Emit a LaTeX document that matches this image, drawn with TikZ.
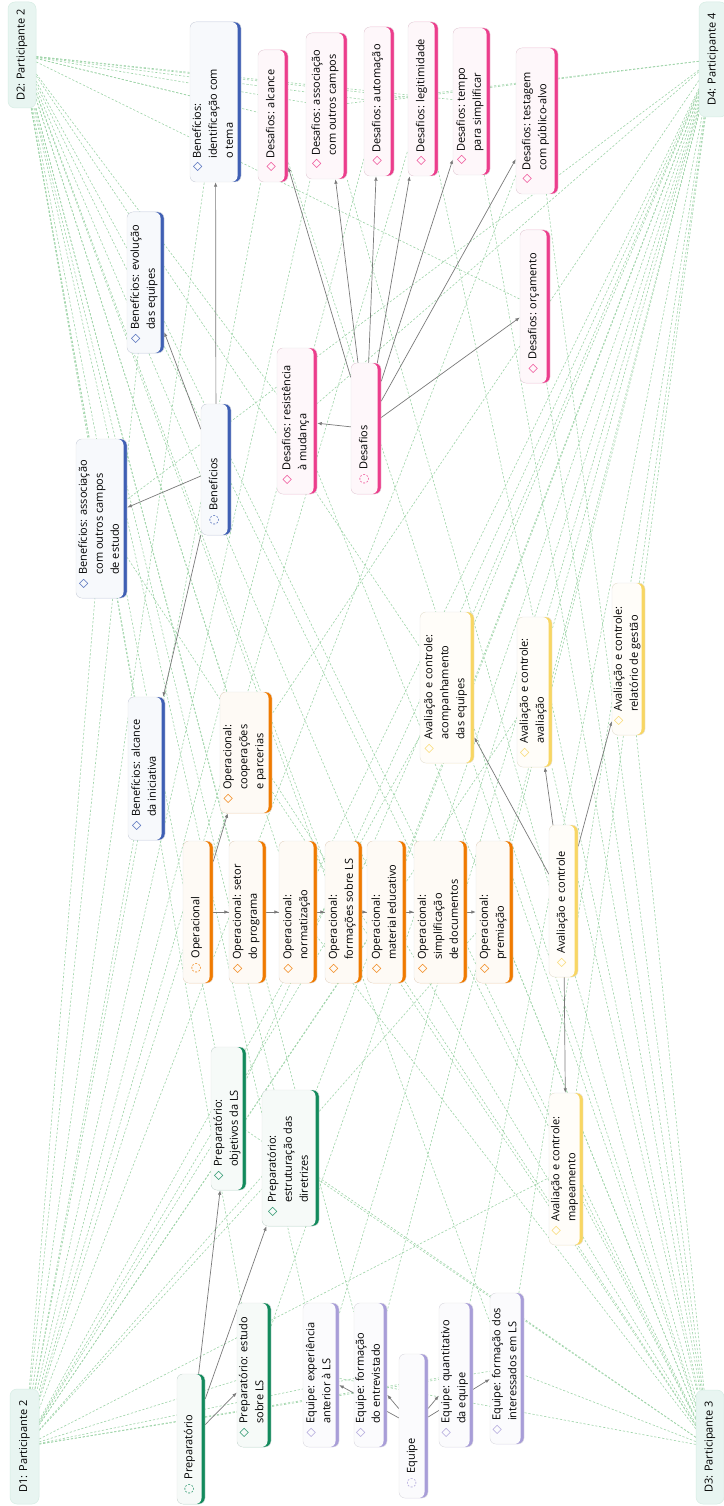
\documentclass[tikz,border=0pt]{standalone}
\usepackage{fontspec}
\setmainfont{Open Sans}
\newfontfamily\iconfont{DejaVu Sans}
\usetikzlibrary{arrows.meta}
\definecolor{benblue}{HTML}{3F5FB4}
\definecolor{desapink}{HTML}{EC3D8C}
\definecolor{operorange}{HTML}{F07A00}
\definecolor{avalyellow}{HTML}{F8D663}
\definecolor{prepgreen}{HTML}{128A5C}
\definecolor{equipurple}{HTML}{A89DD8}
\definecolor{partmint}{HTML}{E8F5F1}
\definecolor{partedge}{HTML}{D6EDE4}
\definecolor{linkgreen}{HTML}{9ED4A8}
\definecolor{arrowgray}{HTML}{7A7A7A}
\pgfdeclarelayer{back}
\pgfsetlayers{back,main}
\newcommand\leaficon[1]{{\iconfont\fontsize{12}{12}\selectfont\textcolor{#1}{◇}}}
\newcommand\groupicon[1]{{\iconfont\fontsize{12}{12}\selectfont\textcolor{#1}{◌}}}

\begin{document}
\begin{tikzpicture}[
    x=1pt, y=-1pt,
    box/.style={rectangle, rounded corners=6pt, inner sep=0pt, draw=black!10, line width=0.4pt, fill=#1,
        path picture={\fill[#1!4] ([xshift=-3.5pt]path picture bounding box.north east) rectangle (path picture bounding box.south west);}},
    part/.style={rectangle, rounded corners=7pt, inner sep=0pt, fill=partmint, draw=partedge, line width=0.5pt},
    boxtext/.style={rotate=90, anchor=west, inner sep=0pt, font=\fontsize{11}{16}\selectfont},
    parttext/.style={rotate=90, inner sep=0pt, font=\fontsize{11}{13}\selectfont},
    arr/.style={-{Latex[length=4.5pt, width=3.5pt]}, draw=arrowgray, line width=0.7pt},
    link/.style={draw=linkgreen, line width=0.6pt, dash pattern=on 2.2pt off 1.8pt},
]
\useasboundingbox (0,0) rectangle (723,1506);

% participants
\node[part, minimum width=28pt, minimum height=106pt] (pD2) at (22,55) {};
\node[part, minimum width=28pt, minimum height=115pt] (pD4) at (713,59.5) {};
\node[part, minimum width=29pt, minimum height=115pt] (pD1) at (24.5,1446.5) {};
\node[part, minimum width=28pt, minimum height=114pt] (pD3) at (710,1447) {};
\node[parttext] at (pD2) {D2: Participante 2};
\node[parttext] at (pD4) {D4: Participante 4};
\node[parttext] at (pD1) {D1: Participante 2};
\node[parttext] at (pD3) {D3: Participante 3};

% codes
\foreach \nm/\col/\x/\y/\w/\h/\ic/\txt in {
    prep/prepgreen/191/1439/28/130/\groupicon/{Preparatório},
    prEstudo/prepgreen/254/1375/34/144/\leaficon/{Preparatório: estudo\\sobre LS},
    prObjet/prepgreen/228.5/1118.5/35/143/\leaficon/{Preparatório:\\objetivos da LS},
    prDiretr/prepgreen/290.5/1158/57/136/\leaficon/{Preparatório:\\estruturação das\\diretrizes},
    equipe/equipurple/413.5/1426/29/144/\groupicon/{Equipe},
    eqExper/equipurple/321/1375/36/144/\leaficon/{Equipe: experiência\\anterior à LS},
    eqEntrev/equipurple/370.5/1375/33/144/\leaficon/{Equipe: formação\\do entrevistado},
    eqQuant/equipurple/456/1375/34/144/\leaficon/{Equipe: quantitativo\\da equipe},
    eqInter/equipurple/507/1368.5/34/151/\leaficon/{Equipe: formação dos\\interessados em LS},
    oper/operorange/198/912/30/142/\groupicon/{Operacional},
    opSetor/operorange/247.5/912/37/142/\leaficon/{Operacional: setor\\do programa},
    opNorma/operorange/298/912/38/142/\leaficon/{Operacional:\\normatização},
    opForm/operorange/343.5/912/37/142/\leaficon/{Operacional:\\formações sobre LS},
    opMat/operorange/386.5/912/39/142/\leaficon/{Operacional:\\material educativo},
    opSimpl/operorange/440.5/912/53/142/\leaficon/{Operacional:\\simplificação\\de documentos},
    opPrem/operorange/494.5/912/37/142/\leaficon/{Operacional:\\premiação},
    opCoop/operorange/246/752.5/52/121/\leaficon/{Operacional:\\cooperações\\e parcerias},
    aval/avalyellow/563.5/901/29/152/\leaficon/{Avaliação e controle},
    avAcomp/avalyellow/447/687.5/54/151/\leaficon/{Avaliação e controle:\\acompanhamento\\das equipes},
    avAval/avalyellow/534.5/692/35/150/\leaficon/{Avaliação e controle:\\avaliação},
    avRelat/avalyellow/628.5/659/33/152/\leaficon/{Avaliação e controle:\\relatório de gestão},
    avMapa/avalyellow/566/1169/34/152/\leaficon/{Avaliação e controle:\\mapeamento},
    benef/benblue/216/469.5/30/131/\groupicon/{Benefícios},
    beIdent/benblue/215.5/102/51/160/\leaficon/{Benefícios:\\identificação com\\o tema},
    beEvol/benblue/145.5/282.5/37/141/\leaficon/{Benefícios: evolução\\das equipes},
    beAssoc/benblue/101.5/518.5/51/159/\leaficon/{Benefícios: associação\\com outros campos\\de estudo},
    beAlc/benblue/146.5/768.5/37/143/\leaficon/{Benefícios: alcance\\da iniciativa},
    desaf/desapink/366/428.5/30/131/\groupicon/{Desafios},
    deAlc/desapink/273/116/30/132/\leaficon/{Desafios: alcance},
    deAssoc/desapink/326.5/106/41/146/\leaficon/{Desafios: associação\\com outros campos},
    deAutom/desapink/379/101.5/30/149/\leaficon/{Desafios: automação},
    deLegit/desapink/423/99/30/154/\leaficon/{Desafios: legitimidade},
    deTempo/desapink/471.5/101.5/37/147/\leaficon/{Desafios: tempo\\para simplificar},
    deTest/desapink/537/121/42/146/\leaficon/{Desafios: testagem\\com público-alvo},
    deOrc/desapink/535/306.5/30/153/\leaficon/{Desafios: orçamento},
    deResist/desapink/297/421/40/146/\leaficon/{Desafios: resistência\\à mudança}} {
    \node[box=\col, minimum width=\w pt, minimum height=\h pt] (\nm) at (\x,\y) {};
    \node[boxtext] at ([xshift=-1.75pt, yshift=10pt]\nm.south) {\ic{\col}\hspace{4pt}\begin{tabular}[t]{@{}l@{}}\txt\end{tabular}};
}

\begin{pgfonlayer}{back}
\fill[white] (0,0) rectangle (723,1506);

% participant links
\foreach \b in {beIdent, deAlc, deAssoc, deAutom, deLegit, deTempo, deOrc, beEvol, beAssoc, beAlc,
    prEstudo, prObjet, prDiretr, eqExper, eqEntrev, eqInter, opSetor, opNorma, opForm, opMat,
    opSimpl, opCoop, deResist, avAcomp} {
    \draw[link] (pD2) -- (\b);
}
\foreach \b in {deAssoc, deAutom, avRelat, avAval, avAcomp, avMapa, opPrem, opSimpl, opMat, opForm,
    opNorma, eqInter, eqQuant, eqEntrev, eqExper, prEstudo, prDiretr, prObjet, deResist, opCoop, beAssoc} {
    \draw[link] (pD4) -- (\b);
}
\foreach \b in {beAssoc, beEvol, beIdent, beAlc, deAlc, deAssoc, deAutom, deLegit, deTest, opCoop,
    avAcomp, opForm, prObjet, opMat, avAval, opPrem, prDiretr, avMapa, eqEntrev, eqQuant, eqInter, prEstudo} {
    \draw[link] (pD1) -- (\b);
}
\foreach \b in {prObjet, prDiretr, opMat, opSimpl, avMapa, beEvol, opPrem, deResist, avAcomp, deAlc,
    deAssoc, deLegit, deTempo, avAval, avRelat, deTest, eqExper, eqInter, beAssoc, opNorma, opCoop, deOrc} {
    \draw[link] (pD3) -- (\b);
}

% hierarchy
\foreach \a/\b in {prep/prEstudo, prep/prObjet, prep/prDiretr,
    equipe/eqExper, equipe/eqEntrev, equipe/eqQuant, equipe/eqInter,
    oper/opSetor, oper/opNorma, oper/opForm, oper/opMat, oper/opSimpl, oper/opPrem, oper/opCoop,
    aval/avAcomp, aval/avAval, aval/avRelat, aval/avMapa,
    benef/beIdent, benef/beEvol, benef/beAssoc, benef/beAlc,
    desaf/deAlc, desaf/deAssoc, desaf/deAutom, desaf/deLegit, desaf/deTempo, desaf/deTest,
    desaf/deOrc, desaf/deResist} {
    \draw[arr] (\a) -- (\b);
}
\end{pgfonlayer}

\end{tikzpicture}
\end{document}
